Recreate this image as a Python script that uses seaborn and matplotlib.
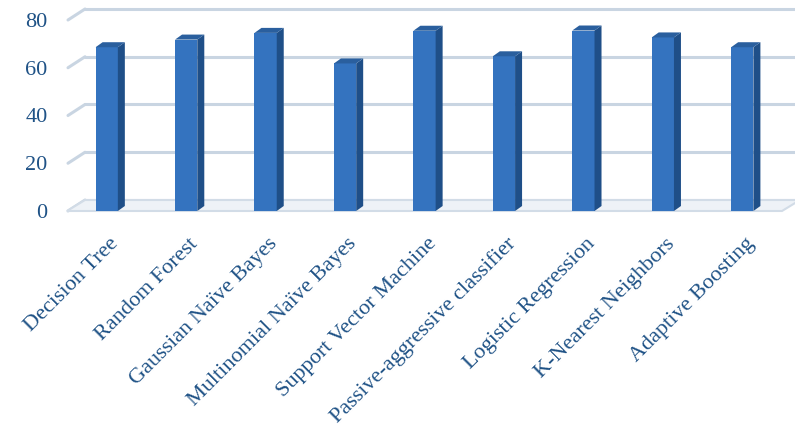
import matplotlib
matplotlib.use("Agg")
import matplotlib.pyplot as plt
import matplotlib.transforms as mtransforms
from matplotlib.patches import Polygon
import seaborn as sns
import pandas as pd

# values
models = ["Decision Tree", "Random Forest", "Gaussian Naïve Bayes",
          "Multinomial Naïve Bayes", "Support Vector Machine",
          "Passive-aggressive classifier", "Logistic Regression",
          "K-Nearest Neighbors", "Adaptive Boosting"]
accuracy = [68.6, 71.8, 74.6, 61.8, 75.5, 64.8, 75.6, 72.7, 68.6]
yticks = [0, 20, 40, 60, 80]

df = pd.DataFrame({"model": models, "acc": accuracy})

sns.set_style("white")
plt.rcParams["font.family"] = ["Liberation Serif", "DejaVu Serif"]
text_col = "#1f5286"

fig = plt.figure(figsize=(7.95, 4.32), dpi=100)
ax = fig.add_axes([67 / 795, 1 - 211 / 432, 715 / 795, 191 / 432])

sns.barplot(data=df, x="model", y="acc", color="#3473bf", width=0.28,
            saturation=1, ax=ax, zorder=3)
ax.set_xlim(-0.5, len(models) - 0.5)
ax.set_ylim(0, 80)

# pixel -> data conversion for the fake 3D depth
bb = ax.get_window_extent()
px_x = len(models) / bb.width
px_y = 80 / bb.height

# back wall gridlines with a slanted left wall segment
gdx, gdy = 18 * px_x, 11 * px_y
for v in yticks:
    ax.plot([-0.5 + 1 * px_x, -0.5 + gdx], [v, v + gdy], color="#c9d5e2",
            lw=2.2, clip_on=False, zorder=1)
    ax.plot([-0.5 + gdx, len(models) - 0.5 + gdx], [v + gdy, v + gdy],
            color="#c9d5e2", lw=2.2, clip_on=False, zorder=1)
# floor
floor = Polygon([(-0.5, 0), (len(models) - 0.5, 0),
                 (len(models) - 0.5 + gdx, gdy), (-0.5 + gdx, gdy)],
                closed=True, facecolor="#eef2f7", edgecolor="#d2dce7",
                lw=1.5, clip_on=False, zorder=1)
ax.add_patch(floor)

# side and top faces of each bar
bdx, bdy = 7 * px_x, 5 * px_y
bars = [p for p in ax.patches if p is not floor]
for p in bars:
    x, w, h = p.get_x(), p.get_width(), p.get_height()
    side = Polygon([(x + w, 0), (x + w + bdx, bdy), (x + w + bdx, h + bdy),
                    (x + w, h)], closed=True, facecolor="#1f4f88",
                   edgecolor="none", zorder=3, clip_on=False)
    top = Polygon([(x, h), (x + w, h), (x + w + bdx, h + bdy),
                   (x + bdx, h + bdy)], closed=True, facecolor="#2a5f9e",
                  edgecolor="none", zorder=3, clip_on=False)
    ax.add_patch(side)
    ax.add_patch(top)
    p.set_edgecolor("none")

for s in ax.spines.values():
    s.set_visible(False)
ax.set_xlabel("")
ax.set_ylabel("")
ax.set_yticks(yticks)
ax.tick_params(length=0)
ax.tick_params(axis="y", labelsize=16, labelcolor=text_col, pad=14)
ax.tick_params(axis="x", labelsize=16, labelcolor=text_col, pad=0)

off = mtransforms.ScaledTranslation(9 / 100, -30 / 100, fig.dpi_scale_trans)
for lbl in ax.get_xticklabels():
    lbl.set_rotation(45)
    lbl.set_ha("right")
    lbl.set_va("center")
    lbl.set_rotation_mode("anchor")
    lbl.set_transform(lbl.get_transform() + off)

fig.savefig("out.png", dpi=100)
